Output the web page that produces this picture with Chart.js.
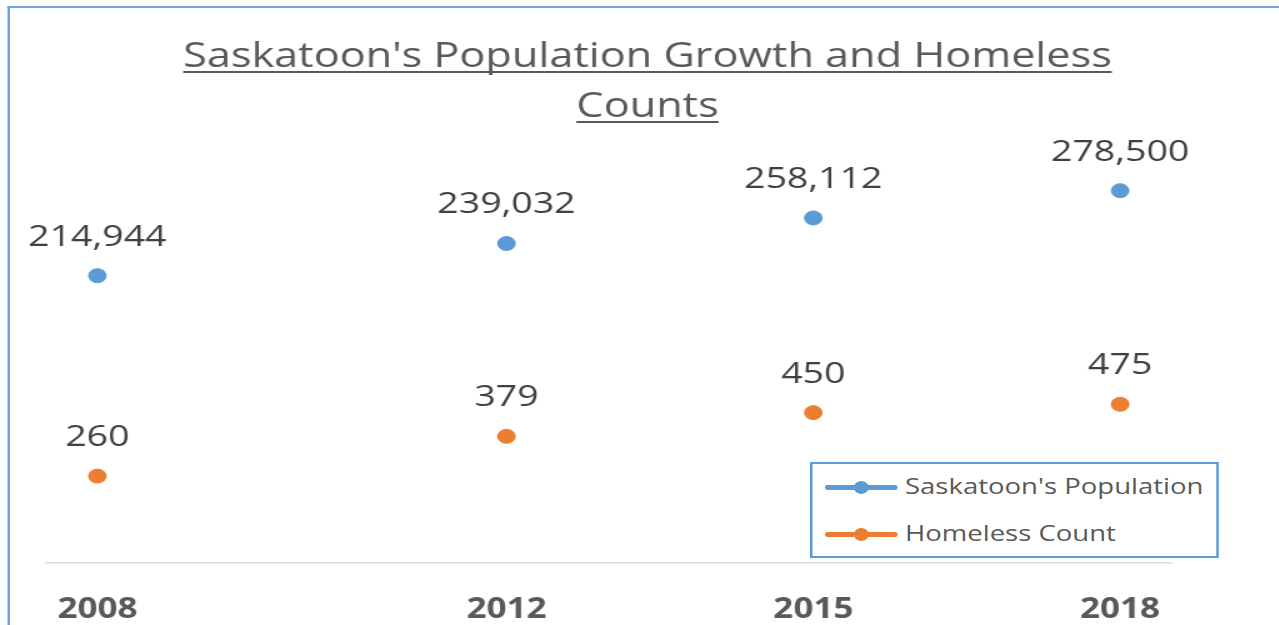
<!DOCTYPE html>
<html>
<head>
<meta charset="utf-8">
<script src="https://cdn.jsdelivr.net/npm/chart.js@4"></script>
<style>
  body { margin: 0; background: #fff; overflow: hidden; }
  #wrap { position: absolute; left: 0; top: 0; width: 1023px; height: 625px;
          transform: scaleX(1.25); transform-origin: 0 0; }
  #frame { position: absolute; left: 6px; top: 6px; width: 1100px; height: 700px;
           border-left: 2px solid #6aa4db; border-top: 2px solid #6aa4db; }
  #chart { position: absolute; left: 0; top: 0; }
  #legend { position: absolute; left: 648px; top: 462px; width: 327px; height: 96px;
            box-sizing: border-box; border: 2px solid #5b9bd5; background: #fff;
            font-family: "Open Sans", sans-serif; font-size: 22px; color: #595959; }
  .item { position: absolute; left: 10px; height: 30px; }
  .item .ln { position: absolute; left: 0; top: 13px; width: 58px; height: 5px; border-radius: 2px; }
  .item .dot { position: absolute; left: 23px; top: 9px; width: 12px; height: 13px; border-radius: 50%; }
  .item .tx { position: absolute; left: 64px; top: -2px; white-space: nowrap; }
</style>
</head>
<body>
<div id="wrap">
  <div id="frame"></div>
  <canvas id="chart" width="1023" height="625"></canvas>
  <div id="legend"></div>
</div>
<script>
const years = [2008, 2012, 2015, 2018];
const population = [214944, 239032, 258112, 278500];
const homeless = [260, 379, 450, 475];
const seriesNames = ["Saskatoon's Population", "Homeless Count"];
const seriesColors = ["#5b9bd5", "#ed7d31"];
const titleLines = ["Saskatoon's Population Growth and Homeless", "Counts"];

// legend (html)
const legend = document.getElementById('legend');
seriesNames.forEach((name, i) => {
    const it = document.createElement('div');
    it.className = 'item';
    it.style.top = (8 + i * 47) + 'px';
    it.innerHTML = '<div class="ln" style="background:' + seriesColors[i] + '"></div>' +
        '<div class="dot" style="background:' + seriesColors[i] + '"></div>' +
        '<div class="tx">' + name + '</div>';
    legend.appendChild(it);
});

const titlePlugin = {
    id: 'underlinedTitle',
    afterDraw(chart) {
        const ctx = chart.ctx;
        ctx.save();
        ctx.font = '34.6px "Open Sans"';
        ctx.fillStyle = '#595959';
        ctx.strokeStyle = '#595959';
        ctx.textAlign = 'center';
        ctx.textBaseline = 'alphabetic';
        titleLines.forEach((line, i) => {
            const y = 67 + i * 50;
            ctx.fillText(line, 518, y);
            const w = ctx.measureText(line).width;
            ctx.lineWidth = 2;
            ctx.beginPath();
            ctx.moveTo(518 - w / 2, y + 5);
            ctx.lineTo(518 + w / 2, y + 5);
            ctx.stroke();
        });
        ctx.restore();
    }
};

const valueLabels = {
    id: 'valueLabels',
    afterDatasetsDraw(chart) {
        const ctx = chart.ctx;
        ctx.save();
        ctx.font = '30px "Open Sans"';
        ctx.fillStyle = '#404040';
        ctx.textAlign = 'center';
        ctx.textBaseline = 'alphabetic';
        chart.data.datasets.forEach((ds, di) => {
            chart.getDatasetMeta(di).data.forEach((pt, i) => {
                ctx.fillText(ds.data[i].y.toLocaleString('en-US'), pt.x, pt.y - 30);
            });
        });
        ctx.restore();
    }
};

new Chart(document.getElementById('chart'), {
    type: 'scatter',
    data: {
        datasets: [{
            label: seriesNames[0],
            data: years.map((y, i) => ({x: y, y: population[i]})),
            backgroundColor: seriesColors[0],
            borderColor: seriesColors[0],
            pointRadius: 7,
            yAxisID: 'y'
        }, {
            label: seriesNames[1],
            data: years.map((y, i) => ({x: y, y: homeless[i]})),
            backgroundColor: seriesColors[1],
            borderColor: seriesColors[1],
            pointRadius: 7,
            yAxisID: 'y1'
        }]
    },
    options: {
        responsive: false,
        animation: false,
        devicePixelRatio: 1,
        layout: {padding: {left: 37, right: 86, top: 162, bottom: 0}},
        plugins: {
            legend: {display: false},
            title: {display: false},
            tooltip: {enabled: false}
        },
        scales: {
            x: {
                type: 'linear',
                min: 2007.5,
                max: 2018.5,
                grid: {display: false},
                border: {display: true, color: '#d9d9d9', width: 1.5},
                afterBuildTicks: s => { s.ticks = years.map(v => ({value: v})); },
                afterFit: s => { s.height = 62; },
                ticks: {
                    autoSkip: false,
                    maxRotation: 0,
                    padding: 22,
                    color: '#595959',
                    font: {family: 'Open Sans', size: 28, weight: 'bold'},
                    callback: v => String(v)
                }
            },
            y: {display: false, min: 0, max: 300000},
            y1: {display: false, min: 0, max: 1200}
        }
    },
    plugins: [titlePlugin, valueLabels]
});
</script>
</body>
</html>
